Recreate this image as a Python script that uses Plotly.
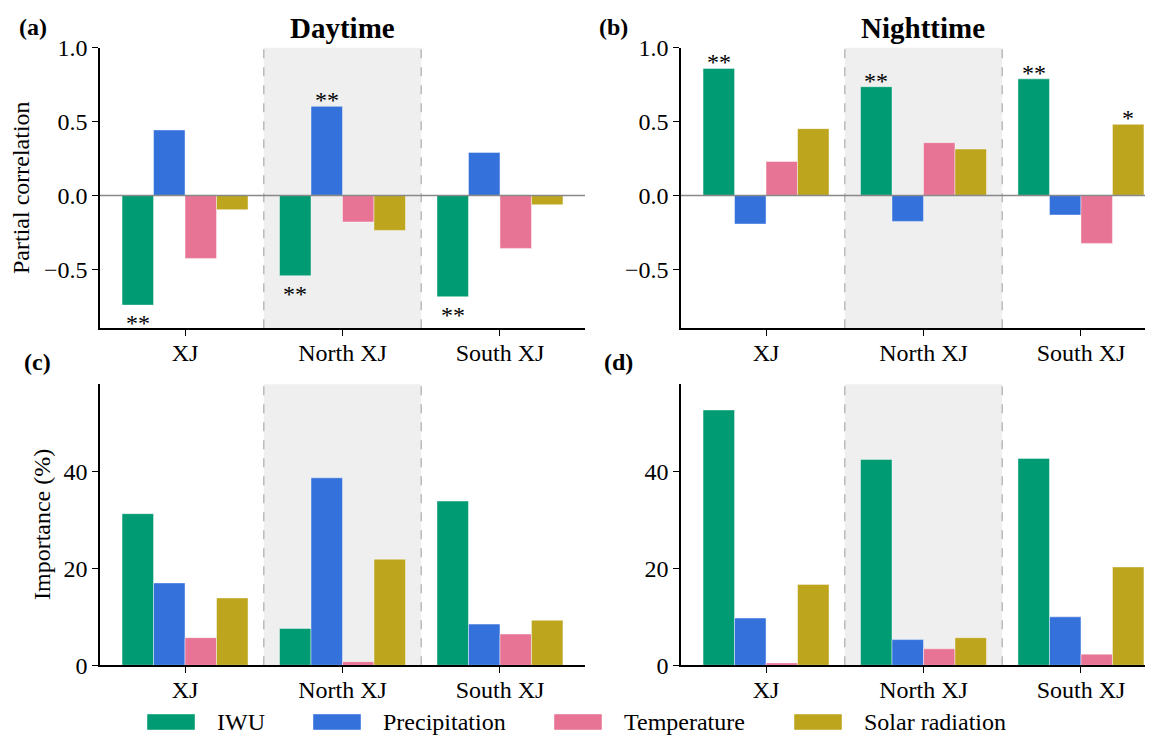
import plotly.graph_objects as go

W, H = 1153, 739
OFF = 8  # page body margin in the browser

regions = ["XJ", "North XJ", "South XJ"]
variables = ["IWU", "Precipitation", "Temperature", "Solar radiation"]
colors = ["#009B72", "#3471DB", "#E87495", "#BDA61E"]

# Partial correlation (rows: variable, cols: region)
pc_day = {
    "IWU": [-0.743, -0.544, -0.686],
    "Precipitation": [0.443, 0.603, 0.291],
    "Temperature": [-0.427, -0.180, -0.359],
    "Solar radiation": [-0.097, -0.237, -0.063],
}
pc_night = {
    "IWU": [0.860, 0.736, 0.789],
    "Precipitation": [-0.194, -0.176, -0.133],
    "Temperature": [0.230, 0.357, -0.325],
    "Solar radiation": [0.452, 0.314, 0.481],
}
sig_day = {
    "IWU": ["**", "**", "**"],
    "Precipitation": ["", "**", ""],
    "Temperature": ["", "", ""],
    "Solar radiation": ["", "", ""],
}
sig_night = {
    "IWU": ["**", "**", "**"],
    "Precipitation": ["", "", ""],
    "Temperature": ["", "", ""],
    "Solar radiation": ["", "", "*"],
}
# Importance (%)
imp_day = {
    "IWU": [31.3, 7.6, 33.9],
    "Precipitation": [17.0, 38.7, 8.5],
    "Temperature": [5.7, 0.75, 6.45],
    "Solar radiation": [13.9, 21.9, 9.3],
}
imp_night = {
    "IWU": [52.7, 42.5, 42.7],
    "Precipitation": [9.75, 5.3, 10.0],
    "Temperature": [0.5, 3.4, 2.3],
    "Solar radiation": [16.7, 5.7, 20.3],
}

FONT = "Liberation Serif"

fig = go.Figure()

panels = [
    ("x", "y", pc_day),
    ("x2", "y2", pc_night),
    ("x3", "y3", imp_day),
    ("x4", "y4", imp_night),
]
for xa, ya, data in panels:
    for v, c in zip(variables, colors):
        fig.add_trace(go.Bar(
            x=regions, y=data[v], name=v, xaxis=xa, yaxis=ya,
            marker=dict(color=c, line=dict(color="rgba(255,255,255,0.55)", width=0.8)),
            showlegend=False,
        ))

def px2py(p):
    return 1 - (p - OFF) / H

def px2px(p):
    return (p - OFF) / W

axis_common = dict(
    showline=True, linecolor="black", linewidth=1.5,
    ticks="outside", ticklen=6, tickwidth=1.3, tickcolor="black",
    tickfont=dict(family=FONT, size=24, color="black"),
    showgrid=False, zeroline=False, mirror=False, automargin=False,
)

xl = dict(a=(100, 585), b=(681, 1153))
yt = dict(top=(47.7, 328.3), bot=(384.3, 665.3))

layout = dict(
    width=W, height=H,
    margin=dict(l=0, r=0, t=0, b=0, pad=0, autoexpand=False),
    paper_bgcolor="white", plot_bgcolor="white",
    barmode="group", bargap=0.2, bargroupgap=0,
    showlegend=False,
)

def xdom(k):
    return [px2px(xl[k][0]), px2px(xl[k][1])]

def ydom(k):
    return [px2py(yt[k][1]), px2py(yt[k][0])]

xr_a = [-0.54, 2.54]
xr_b = [-0.54, -0.54 + (1153 - 681) / ((585 - 100) / 3.08)]

xcommon = dict(axis_common, type="category", ticklabelstandoff=-4)
layout["xaxis"] = dict(xcommon, domain=xdom("a"), anchor="y", range=xr_a)
layout["xaxis2"] = dict(xcommon, domain=xdom("b"), anchor="y2", range=xr_b)
layout["xaxis3"] = dict(xcommon, domain=xdom("a"), anchor="y3", range=xr_a)
layout["xaxis4"] = dict(xcommon, domain=xdom("b"), anchor="y4", range=xr_b)

pc_ticks = [-0.5, 0.0, 0.5, 1.0]
pc_text = ["\u22120.5", "0.0", "0.5", "1.0"]
imp_ticks = [0, 20, 40]

layout["yaxis"] = dict(axis_common, domain=ydom("top"), anchor="x", range=[-0.9, 1.0],
                       tickvals=pc_ticks, ticktext=pc_text)
layout["yaxis2"] = dict(axis_common, domain=ydom("top"), anchor="x2", range=[-0.9, 1.0],
                        tickvals=pc_ticks, ticktext=pc_text)
layout["yaxis3"] = dict(axis_common, domain=ydom("bot"), anchor="x3", range=[0, 58],
                        tickvals=imp_ticks)
layout["yaxis4"] = dict(axis_common, domain=ydom("bot"), anchor="x4", range=[0, 58],
                        tickvals=imp_ticks)

shapes = []
for xa, ya in [("x", "y"), ("x2", "y2"), ("x3", "y3"), ("x4", "y4")]:
    shapes.append(dict(type="rect", xref=xa, yref=ya + " domain", x0=0.5, x1=1.5, y0=0, y1=1,
                       fillcolor="#EFEFEF", line=dict(width=0), layer="below"))
    for xv in (0.5, 1.5):
        shapes.append(dict(type="line", xref=xa, yref=ya + " domain", x0=xv, x1=xv, y0=0, y1=1,
                           line=dict(color="#BBBBBB", width=1.5, dash="dash"), layer="below"))
for xa, ya in [("x", "y"), ("x2", "y2")]:
    shapes.append(dict(type="line", xref=xa + " domain", yref=ya, x0=0, x1=1, y0=0, y1=0,
                       line=dict(color="#888888", width=1.5), layer="above"))

annotations = []
# significance stars
offsets = [-0.3, -0.1, 0.1, 0.3]
for xa, ya, data, sig in [("x", "y", pc_day, sig_day), ("x2", "y2", pc_night, sig_night)]:
    for k, v in enumerate(variables):
        for i, r in enumerate(regions):
            s = sig[v][i]
            if not s:
                continue
            val = data[v][i]
            annotations.append(dict(
                x=i + offsets[k], y=val, xref=xa, yref=ya, text=s, showarrow=False,
                font=dict(family=FONT, size=24, color="black"),
                xanchor="center", yanchor="middle",
                yshift=(6 if val > 0 else -18),
            ))

# titles
annotations.append(dict(x=px2px(342.5), y=px2py(28), xref="paper", yref="paper",
                        text="<b>Daytime</b>", showarrow=False,
                        font=dict(family=FONT, size=29, color="black"),
                        xanchor="center", yanchor="middle"))
annotations.append(dict(x=px2px(923), y=px2py(28), xref="paper", yref="paper",
                        text="<b>Nighttime</b>", showarrow=False,
                        font=dict(family=FONT, size=29, color="black"),
                        xanchor="center", yanchor="middle"))
# panel letters
for lab, cx, cy in [("(a)", 33, 27), ("(b)", 613, 27), ("(c)", 37, 362), ("(d)", 618, 362)]:
    annotations.append(dict(x=px2px(cx), y=px2py(cy), xref="paper", yref="paper",
                            text="<b>%s</b>" % lab, showarrow=False,
                            font=dict(family=FONT, size=24, color="black"),
                            xanchor="center", yanchor="middle"))
# y-axis titles
annotations.append(dict(x=px2px(21), y=px2py(188), xref="paper", yref="paper",
                        text="Partial correlation", showarrow=False, textangle=-90,
                        font=dict(family=FONT, size=24, color="black"),
                        xanchor="center", yanchor="middle"))
annotations.append(dict(x=px2px(42), y=px2py(525), xref="paper", yref="paper",
                        text="Importance (%)", showarrow=False, textangle=-90,
                        font=dict(family=FONT, size=24, color="black"),
                        xanchor="center", yanchor="middle"))

# legend (manual)
leg_patch_x = [147, 313, 554, 794]
leg_text_x = [215, 381, 622, 862]
leg_cy = 722
for v, c, px0, tx in zip(variables, colors, leg_patch_x, leg_text_x):
    shapes.append(dict(type="rect", xref="paper", yref="paper",
                       x0=px2px(px0), x1=px2px(px0 + 48),
                       y0=px2py(leg_cy + 8), y1=px2py(leg_cy - 8),
                       fillcolor=c, line=dict(color="rgba(255,255,255,0.55)", width=0.8)))
    annotations.append(dict(x=px2px(tx), y=px2py(leg_cy), xref="paper", yref="paper",
                            text=v, showarrow=False,
                            font=dict(family=FONT, size=24, color="black"),
                            xanchor="left", yanchor="middle"))

layout["shapes"] = shapes
layout["annotations"] = annotations
fig.update_layout(**layout)

fig.write_html("out.html")
